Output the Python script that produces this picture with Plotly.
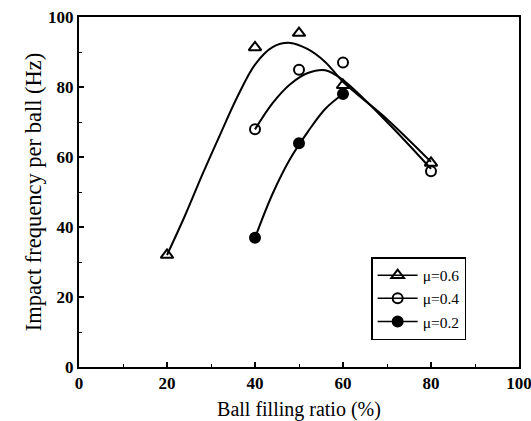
import plotly.graph_objects as go

# Measured data points
x_06 = [20, 40, 50, 60, 80]
y_06 = [32.0, 91.3, 95.4, 80.5, 58.3]
x_04 = [40, 50, 60, 80]
y_04 = [67.9, 84.9, 87.0, 55.9]
x_02 = [40, 50, 60]
y_02 = [36.9, 63.9, 78.0]

# Fitted curves
cx_06 = [20, 24, 28, 32, 36, 40, 44, 48, 52, 56, 60, 70, 80]
cy_06 = [32, 43, 54.9, 66.2, 77.2, 86.4, 91.4, 92.6, 90.8, 87.1, 81.5, 70.8, 58.6]
cx_04 = [40, 44, 48, 52, 56, 60, 70, 80]
cy_04 = [67.9, 75.4, 80.8, 84.0, 84.8, 82.0, 70.0, 56.6]
cx_02 = [40, 44, 48, 52, 56, 60]
cy_02 = [36.9, 49.5, 59.5, 67.2, 73.8, 78.0]

labels = ["\u03bc=0.6", "\u03bc=0.4", "\u03bc=0.2"]
symbols = ["triangle-up-open", "circle-open", "circle"]
sizes = [11, 10, 10]

fig = go.Figure()
curves = [(cx_06, cy_06), (cx_04, cy_04), (cx_02, cy_02)]
points = [(x_06, y_06), (x_04, y_04), (x_02, y_02)]

for (cx, cy) in curves:
    fig.add_trace(go.Scatter(x=cx, y=cy, mode="lines", line=dict(color="black", width=2, shape="spline", smoothing=1.0),
                             showlegend=False, hoverinfo="skip"))
for (px, py), sym, sz in zip(points, symbols, sizes):
    fig.add_trace(go.Scatter(x=px, y=py, mode="markers",
                             marker=dict(symbol=sym, size=sz, color="black", line=dict(color="black", width=2)),
                             showlegend=False))
for lab, sym, sz in zip(labels, symbols, sizes):
    fig.add_trace(go.Scatter(x=[None], y=[None], mode="lines+markers", name=lab,
                             line=dict(color="black", width=1.5),
                             marker=dict(symbol=sym, size=sz, color="black", line=dict(color="black", width=2))))

axis_common = dict(
    showline=True, linecolor="black", linewidth=2, mirror=True,
    ticks="inside", ticklen=5, tickwidth=1.5, tickcolor="black",
    showgrid=False, zeroline=False, automargin=False, ticklabeloverflow="allow",
    tickfont=dict(family="Liberation Serif", size=17, color="black", weight="bold"),
    minor=dict(ticks="inside", ticklen=3, tickwidth=1, tickcolor="black", dtick=10),
)

fig.update_xaxes(range=[0, 100], dtick=20, tick0=0,
                 title=dict(text="Ball filling ratio (%)", font=dict(family="Liberation Serif", size=20, color="black"), standoff=10),
                 **axis_common)
fig.update_yaxes(range=[0, 100], dtick=20, tick0=0,
                 title=dict(text="Impact frequency per ball (Hz)", font=dict(family="Liberation Serif", size=22.5, color="black"), standoff=0),
                 **axis_common)

fig.update_layout(
    width=531, height=421,
    margin=dict(l=79, r=12, t=17, b=54, autoexpand=False),
    paper_bgcolor="white", plot_bgcolor="white",
    legend=dict(x=0.664, y=0.314, xanchor="left", yanchor="top",
                bordercolor="black", borderwidth=1.5, bgcolor="white",
                font=dict(family="Liberation Serif", size=15.5, color="black"),
                tracegroupgap=0, itemwidth=40),
)

fig.write_html("out.html", config={"displayModeBar": False},
               post_script="document.body.style.margin='0';document.body.style.overflow='hidden';")
